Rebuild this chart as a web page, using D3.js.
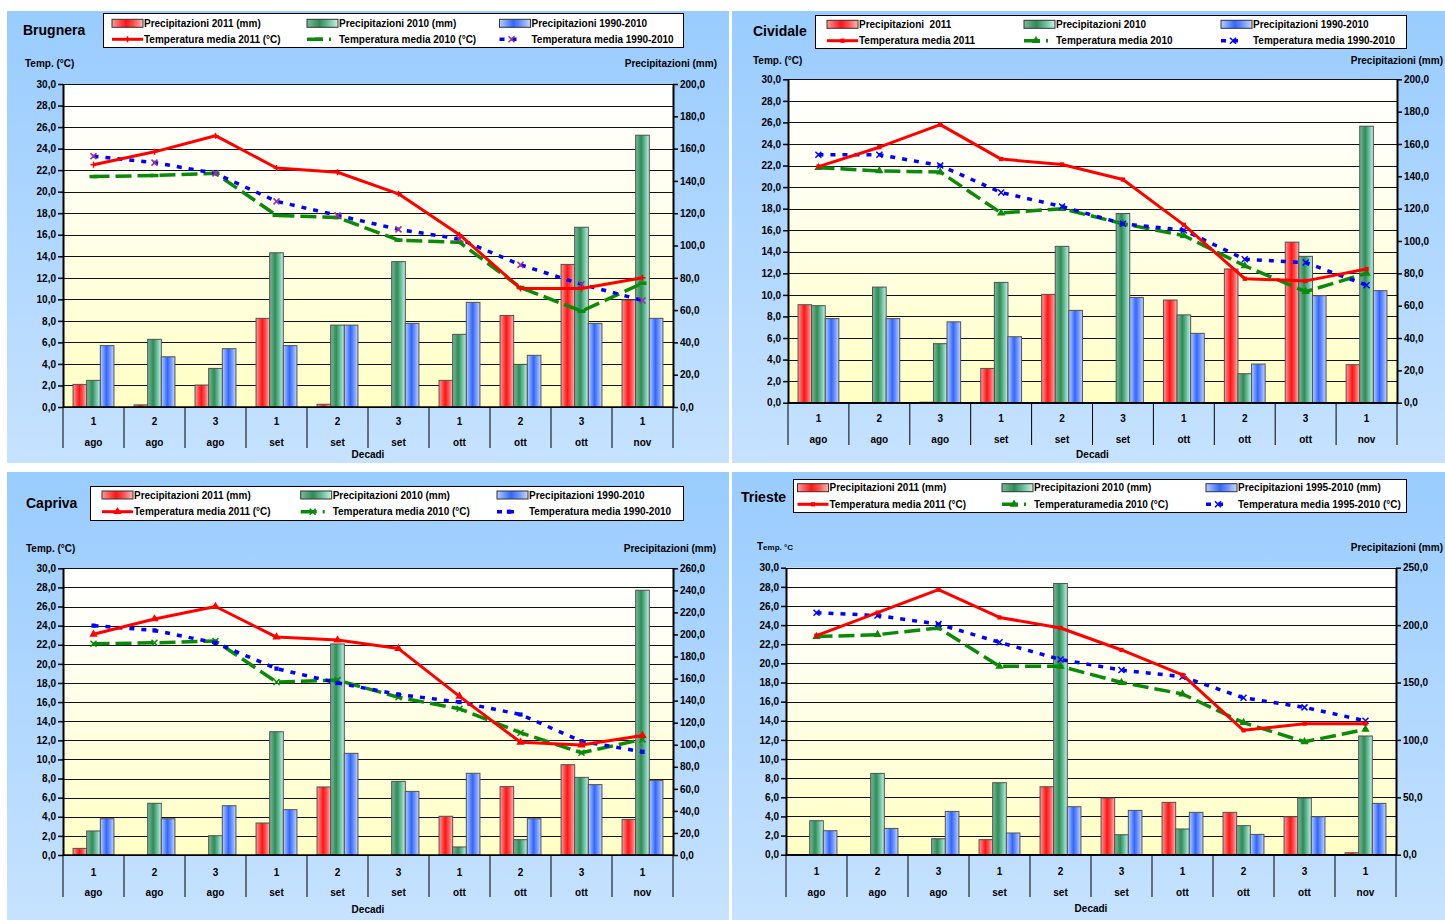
<!DOCTYPE html>
<html>
<head>
<meta charset="utf-8">
<script src="https://cdn.jsdelivr.net/npm/d3@7"></script>
<style>
  body { margin: 0; background: #fff; }
  svg { display: block; font-family: "Liberation Sans", Arial, sans-serif; font-weight: bold; }
</style>
</head>
<body>
<svg id="chart" width="1445" height="920"></svg>
<script>
// categories
const decadi = ['1', '2', '3', '1', '2', '3', '1', '2', '3', '1'];
const mesi = ['ago', 'ago', 'ago', 'set', 'set', 'set', 'ott', 'ott', 'ott', 'nov'];

// Brugnera
const brugneraPrec2011 = [14, 1.3, 13.6, 54.9, 1.7, 0, 16.5, 56.7, 88.3, 66.3];
const brugneraPrec2010 = [16.5, 41.9, 23.9, 95.5, 50.7, 90, 45, 26.4, 111.3, 168.3];
const brugneraPrecMedia = [38, 31.1, 36.1, 38, 50.7, 51.8, 64.8, 32, 51.8, 54.9];
const brugneraTemp2011 = [22.5, 23.7, 25.2, 22.2, 21.8, 19.8, 16.0, 11.0, 11.0, 12.0];
const brugneraTemp2010 = [21.4, 21.5, 21.7, 17.8, 17.6, 15.5, 15.3, 11.1, 8.9, 11.5];
const brugneraTempMedia = [23.3, 22.7, 21.7, 19.1, 17.8, 16.5, 15.6, 13.2, 11.4, 9.9];
const brugneraLegend = ['Precipitazioni 2011 (mm)', 'Precipitazioni 2010 (mm)', 'Precipitazioni 1990-2010',
  'Temperatura media 2011 (°C)', 'Temperatura media 2010 (°C)', 'Temperatura media 1990-2010'];

// Cividale
const cividalePrec2011 = [60.6, 0, 0.3, 21.2, 67, 0, 63.5, 82.7, 99.3, 23.5];
const cividalePrec2010 = [60, 71.5, 36.5, 74.4, 96.7, 117, 54.3, 17.9, 90.5, 171];
const cividalePrecMedia = [52, 52, 50, 40.8, 57.1, 65.1, 42.9, 23.9, 66.2, 69.3];
const cividaleTemp2011 = [21.9, 23.7, 25.8, 22.6, 22.1, 20.7, 16.5, 11.5, 11.3, 12.4];
const cividaleTemp2010 = [21.8, 21.5, 21.4, 17.6, 18.0, 16.6, 15.5, 12.7, 10.3, 12.0];
const cividaleTempMedia = [23.0, 23.0, 22.0, 19.5, 18.2, 16.6, 16.0, 13.3, 13.0, 10.9];
const cividaleLegend = ['Precipitazioni  2011', 'Precipitazioni 2010', 'Precipitazioni 1990-2010',
  'Temperatura media 2011', 'Temperatura media 2010', 'Temperatura media 1990-2010'];

// Capriva
const caprivaPrec2011 = [6.0, 0, 0, 29.0, 61.7, 0, 35.1, 62.0, 81.9, 32.3];
const caprivaPrec2010 = [21.8, 46.9, 17.5, 111.8, 191.4, 66.8, 7.3, 13.9, 70.4, 240.1];
const caprivaPrecMedia = [32.9, 32.9, 44.7, 41.1, 92.2, 57.7, 74.1, 32.9, 63.8, 67.7];
const caprivaTemp2011 = [23.1, 24.7, 26.0, 22.8, 22.5, 21.6, 16.6, 11.8, 11.5, 12.5];
const caprivaTemp2010 = [22.1, 22.2, 22.4, 18.1, 18.3, 16.5, 15.3, 12.8, 10.7, 12.1];
const caprivaTempMedia = [24.0, 23.5, 22.2, 19.5, 18.0, 16.8, 16.0, 14.7, 11.9, 10.8];
const caprivaLegend = ['Precipitazioni 2011 (mm)', 'Precipitazioni 2010 (mm)', 'Precipitazioni 1990-2010',
  'Temperatura media 2011 (°C)', 'Temperatura media 2010 (°C)', 'Temperatura media 1990-2010'];

// Trieste
const triestePrec2011 = [0, 0, 0, 13.1, 59.2, 49.4, 45.6, 36.9, 33.1, 1.7];
const triestePrec2010 = [29.6, 70.8, 13.9, 62.7, 236.3, 17.4, 22.4, 25.3, 49.4, 103.4];
const triestePrecMedia = [20.9, 22.9, 37.7, 18.9, 41.8, 38.6, 36.9, 17.7, 33.1, 44.7];
const triesteTemp2011 = [22.9, 25.3, 27.7, 24.8, 23.7, 21.4, 18.8, 13.0, 13.7, 13.7];
const triesteTemp2010 = [22.8, 23.0, 23.7, 19.7, 19.7, 18.0, 16.8, 13.8, 11.8, 13.1];
const triesteTempMedia = [25.3, 25.0, 24.1, 22.2, 20.4, 19.3, 18.6, 16.4, 15.4, 14.0];
const triesteLegend = ['Precipitazioni 2011 (mm)', 'Precipitazioni 2010 (mm)', 'Precipitazioni 1995-2010 (mm)',
  'Temperatura media 2011 (°C)', 'Temperaturamedia 2010 (°C)', 'Temperatura media 1995-2010 (°C)'];

const tempTicks = d3.range(0, 31, 2);
const FONT = '"Liberation Sans", Arial, sans-serif';
const fmt = d => d3.format('.1f')(d).replace('.', ',');

const panels = [
  {
    name: 'Brugnera', title: { x: 23, y: 35 },
    box: { x: 7, y: 11, w: 722, h: 452 },
    legend: { x: 103, y: 13, w: 580, h: 34, cols: [112, 307, 499.5], rows: [23.3, 39.3] },
    tempLabel: { x: 25, y: 67, text: 'Temp. (°C)' },
    precLabel: { x: 717, y: 67, anchor: 'end' },
    plot: { l: 63, r: 673, t: 84, b: 407 }, cat: { b: 448, y1: 425, y2: 446, y3: 458 },
    precMax: 200, precStep: 20,
    prec: [brugneraPrec2011, brugneraPrec2010, brugneraPrecMedia],
    temp: [brugneraTemp2011, brugneraTemp2010, brugneraTempMedia],
    names: brugneraLegend,
    markers: ['plus', 'dash', 'x'], blueMarker: '#993399'
  },
  {
    name: 'Cividale', title: { x: 753, y: 36 },
    box: { x: 732, y: 11, w: 713, h: 452 },
    legend: { x: 815, y: 15, w: 591, h: 33, cols: [827, 1024, 1221], rows: [24.3, 40.7] },
    tempLabel: { x: 753, y: 64, text: 'Temp. (°C)' },
    precLabel: { x: 1443, y: 64, anchor: 'end' },
    plot: { l: 788, r: 1397, t: 79.3, b: 402.7 }, cat: { b: 445, y1: 422, y2: 443, y3: 458 },
    precMax: 200, precStep: 20,
    prec: [cividalePrec2011, cividalePrec2010, cividalePrecMedia],
    temp: [cividaleTemp2011, cividaleTemp2010, cividaleTempMedia],
    names: cividaleLegend,
    markers: ['sq', 'tri', 'x'], blueMarker: '#0000ff'
  },
  {
    name: 'Capriva', title: { x: 26, y: 508 },
    box: { x: 7, y: 472, w: 722, h: 448 },
    legend: { x: 90, y: 486, w: 593, h: 34, cols: [102, 300.7, 497], rows: [495, 511.7] },
    tempLabel: { x: 26, y: 552, text: 'Temp. (°C)' },
    precLabel: { x: 716, y: 552, anchor: 'end' },
    plot: { l: 63, r: 673, t: 568.3, b: 855 }, cat: { b: 897, y1: 875.5, y2: 895.5, y3: 913 },
    precMax: 260, precStep: 20,
    prec: [caprivaPrec2011, caprivaPrec2010, caprivaPrecMedia],
    temp: [caprivaTemp2011, caprivaTemp2010, caprivaTempMedia],
    names: caprivaLegend,
    markers: ['tri', 'x', 'sq'], blueMarker: '#0000ff'
  },
  {
    name: 'Trieste', title: { x: 741, y: 501.5 },
    box: { x: 732, y: 472, w: 713, h: 448 },
    legend: { x: 793, y: 479, w: 613, h: 33, cols: [797.5, 1002, 1206], rows: [487.7, 504.3] },
    tempLabel: { x: 757, y: 550, text: 'Temp. °C', small: true },
    precLabel: { x: 1443, y: 551, anchor: 'end' },
    plot: { l: 786, r: 1396, t: 567.7, b: 854.7 }, cat: { b: 897, y1: 875, y2: 895.5, y3: 912 },
    precMax: 250, precStep: 50,
    prec: [triestePrec2011, triestePrec2010, triestePrecMedia],
    temp: [triesteTemp2011, triesteTemp2010, triesteTempMedia],
    names: triesteLegend,
    markers: ['sq', 'tri', 'x'], blueMarker: '#0000ff'
  }
];

const svg = d3.select('#chart');
const defs = svg.append('defs');

function gradient(id, stops, vertical) {
  const gr = defs.append('linearGradient').attr('id', id)
    .attr('x1', 0).attr('y1', 0).attr('x2', vertical ? 0 : 1).attr('y2', vertical ? 1 : 0);
  stops.forEach(s => gr.append('stop').attr('offset', s[0]).attr('stop-color', s[1]));
}
gradient('gRed', [[0, '#ff9a9a'], [0.45, '#ff1414'], [0.7, '#ff5050'], [1, '#ffb8b8']]);
gradient('gGreen', [[0, '#7dbb9a'], [0.4, '#2e8b57'], [0.7, '#6fc0a0'], [1, '#c8f4e6']]);
gradient('gBlue', [[0, '#b4cfff'], [0.45, '#3366ff'], [0.7, '#6f95ff'], [1, '#c4d8ff']]);
gradient('panelBg', [[0, '#99ccff'], [1, '#c6e2ff']], true);
gradient('plotBg', [[0, '#ffffff'], [0.35, '#fffff0'], [1, '#ffffc4']], true);

const barFills = ['url(#gRed)', 'url(#gGreen)', 'url(#gBlue)'];
const lineStyles = [
  { color: '#ff0000', width: 3, dash: null },
  { color: '#0a8a0a', width: 3.5, dash: '16,6' },
  { color: '#0000ff', width: 3.5, dash: '5,7' }
];

function marker(sel, type, color) {
  if (type === 'tri') {
    sel.append('path').attr('d', d3.symbol(d3.symbolTriangle, 30)()).attr('fill', color);
  } else if (type === 'sq') {
    sel.append('path').attr('d', d3.symbol(d3.symbolSquare, 18)()).attr('fill', color);
  } else if (type === 'x') {
    sel.append('path').attr('d', 'M-3,-3L3,3M-3,3L3,-3').attr('stroke', color).attr('stroke-width', 1.5);
  } else if (type === 'plus') {
    sel.append('path').attr('d', 'M-3,0L3,0M0,-3L0,3').attr('stroke', color).attr('stroke-width', 1.5);
  } else if (type === 'dash') {
    sel.append('path').attr('d', 'M-4,0L4,0').attr('stroke', color).attr('stroke-width', 3.5);
  }
}

function markerColor(p, s) {
  return s === 2 ? p.blueMarker : lineStyles[s].color;
}

function drawPanel(p) {
  const g = svg.append('g');
  g.append('rect')
    .attr('x', p.box.x).attr('y', p.box.y).attr('width', p.box.w).attr('height', p.box.h)
    .attr('fill', 'url(#panelBg)');

  const x0 = d3.scaleBand().domain(d3.range(decadi.length)).range([p.plot.l, p.plot.r]);
  const bw = x0.bandwidth();
  const x1 = d3.scaleBand().domain([0, 1, 2]).range([bw * 0.165, bw * 0.835]);
  const yT = d3.scaleLinear().domain([0, 30]).range([p.plot.b, p.plot.t]);
  const yP = d3.scaleLinear().domain([0, p.precMax]).range([p.plot.b, p.plot.t]);

  // plot area
  g.append('rect')
    .attr('x', p.plot.l).attr('y', p.plot.t)
    .attr('width', p.plot.r - p.plot.l).attr('height', p.plot.b - p.plot.t)
    .attr('fill', 'url(#plotBg)');

  g.append('g').selectAll('line').data(tempTicks).join('line')
    .attr('x1', p.plot.l).attr('x2', p.plot.r)
    .attr('y1', d => Math.round(yT(d)) + 0.5).attr('y2', d => Math.round(yT(d)) + 0.5)
    .attr('stroke', '#111').attr('stroke-width', 1);

  // bars
  p.prec.forEach((vals, s) => {
    g.append('g').selectAll('rect').data(vals).join('rect')
      .attr('x', (d, i) => x0(i) + x1(s))
      .attr('y', d => yP(d))
      .attr('width', x1.bandwidth())
      .attr('height', d => yP(0) - yP(d))
      .attr('fill', barFills[s])
      .attr('stroke', '#505050').attr('stroke-width', 1)
      .attr('display', d => d > 0 ? null : 'none');
  });

  // temperature lines
  const line = d3.line().x((d, i) => x0(i) + bw / 2).y(d => yT(d));
  [1, 2, 0].forEach(s => {
    const st = lineStyles[s];
    g.append('path').datum(p.temp[s])
      .attr('d', line)
      .attr('fill', 'none')
      .attr('stroke', st.color)
      .attr('stroke-width', st.width)
      .attr('stroke-dasharray', st.dash)
      .attr('stroke-linejoin', 'round');
    g.append('g').selectAll('g').data(p.temp[s]).join('g')
      .attr('transform', (d, i) => `translate(${x0(i) + bw / 2},${yT(d)})`)
      .each(function () { marker(d3.select(this), p.markers[s], markerColor(p, s)); });
  });

  // axes
  const left = g.append('g').attr('transform', `translate(${p.plot.l},0)`)
    .call(d3.axisLeft(yT).tickValues(tempTicks).tickFormat(fmt).tickSize(5).tickSizeOuter(0).tickPadding(2));
  const right = g.append('g').attr('transform', `translate(${p.plot.r},0)`)
    .call(d3.axisRight(yP).tickValues(d3.range(0, p.precMax + 0.1, p.precStep))
      .tickFormat(fmt).tickSize(5).tickSizeOuter(0).tickPadding(2));
  [left, right].forEach(ax => {
    ax.attr('font-family', FONT).attr('font-size', 10).attr('font-weight', 'bold');
    ax.select('.domain').attr('stroke', '#000').attr('stroke-width', 2);
    ax.selectAll('.tick line').attr('stroke', '#000').attr('stroke-width', 1.5);
    ax.selectAll('.tick text').attr('fill', '#000');
  });

  // category axis
  const bounds = d3.range(decadi.length).map(i => x0(i)).concat([p.plot.r]);
  g.append('g').selectAll('line').data(bounds).join('line')
    .attr('x1', d => d).attr('x2', d => d)
    .attr('y1', p.plot.b).attr('y2', p.cat.b)
    .attr('stroke', '#000').attr('stroke-width', 1);
  g.append('line')
    .attr('x1', p.plot.l).attr('x2', p.plot.r).attr('y1', p.plot.b).attr('y2', p.plot.b)
    .attr('stroke', '#000').attr('stroke-width', 1.5);
  g.append('g').selectAll('text').data(decadi).join('text')
    .attr('x', (d, i) => x0(i) + bw / 2).attr('y', p.cat.y1)
    .attr('text-anchor', 'middle').attr('font-size', 10).text(d => d);
  g.append('g').selectAll('text').data(mesi).join('text')
    .attr('x', (d, i) => x0(i) + bw / 2).attr('y', p.cat.y2)
    .attr('text-anchor', 'middle').attr('font-size', 10).text(d => d);
  g.append('text')
    .attr('x', (p.plot.l + p.plot.r) / 2).attr('y', p.cat.y3)
    .attr('text-anchor', 'middle').attr('font-size', 10).text('Decadi');

  // titles
  g.append('text').attr('x', p.title.x).attr('y', p.title.y).attr('font-size', 14).text(p.name);
  if (p.tempLabel.small) {
    const t = g.append('text').attr('x', p.tempLabel.x).attr('y', p.tempLabel.y).attr('font-size', 8);
    t.append('tspan').attr('font-size', 10).text('T');
    t.append('tspan').text('emp. °C');
  } else {
    g.append('text').attr('x', p.tempLabel.x).attr('y', p.tempLabel.y).attr('font-size', 10).text(p.tempLabel.text);
  }
  g.append('text').attr('x', p.precLabel.x).attr('y', p.precLabel.y)
    .attr('text-anchor', p.precLabel.anchor).attr('font-size', 10).text('Precipitazioni (mm)');

  // legend
  const lg = p.legend;
  const leg = g.append('g');
  leg.append('rect')
    .attr('x', lg.x + 0.5).attr('y', lg.y + 0.5).attr('width', lg.w).attr('height', lg.h)
    .attr('fill', '#fff').attr('stroke', '#000').attr('stroke-width', 1);
  [0, 1, 2].forEach(s => {
    const cx = lg.cols[s];
    leg.append('rect')
      .attr('x', cx).attr('y', lg.rows[0] - 4).attr('width', 31).attr('height', 8)
      .attr('fill', barFills[s]).attr('stroke', '#333').attr('stroke-width', 1);
    leg.append('text').attr('x', cx + 32).attr('y', lg.rows[0] + 3.5)
      .attr('font-size', 10).style('white-space', 'pre').text(p.names[s]);
    const st = lineStyles[s];
    const len = s === 0 ? 31 : 24;
    leg.append('line')
      .attr('x1', cx).attr('x2', cx + len).attr('y1', lg.rows[1]).attr('y2', lg.rows[1])
      .attr('stroke', st.color).attr('stroke-width', st.width).attr('stroke-dasharray', st.dash);
    marker(leg.append('g').attr('transform', `translate(${cx + len / 2},${lg.rows[1]})`),
      p.markers[s], markerColor(p, s));
    leg.append('text').attr('x', cx + 32).attr('y', lg.rows[1] + 3.5)
      .attr('font-size', 10).text(p.names[s + 3]);
  });
}

panels.forEach(drawPanel);
</script>
</body>
</html>
